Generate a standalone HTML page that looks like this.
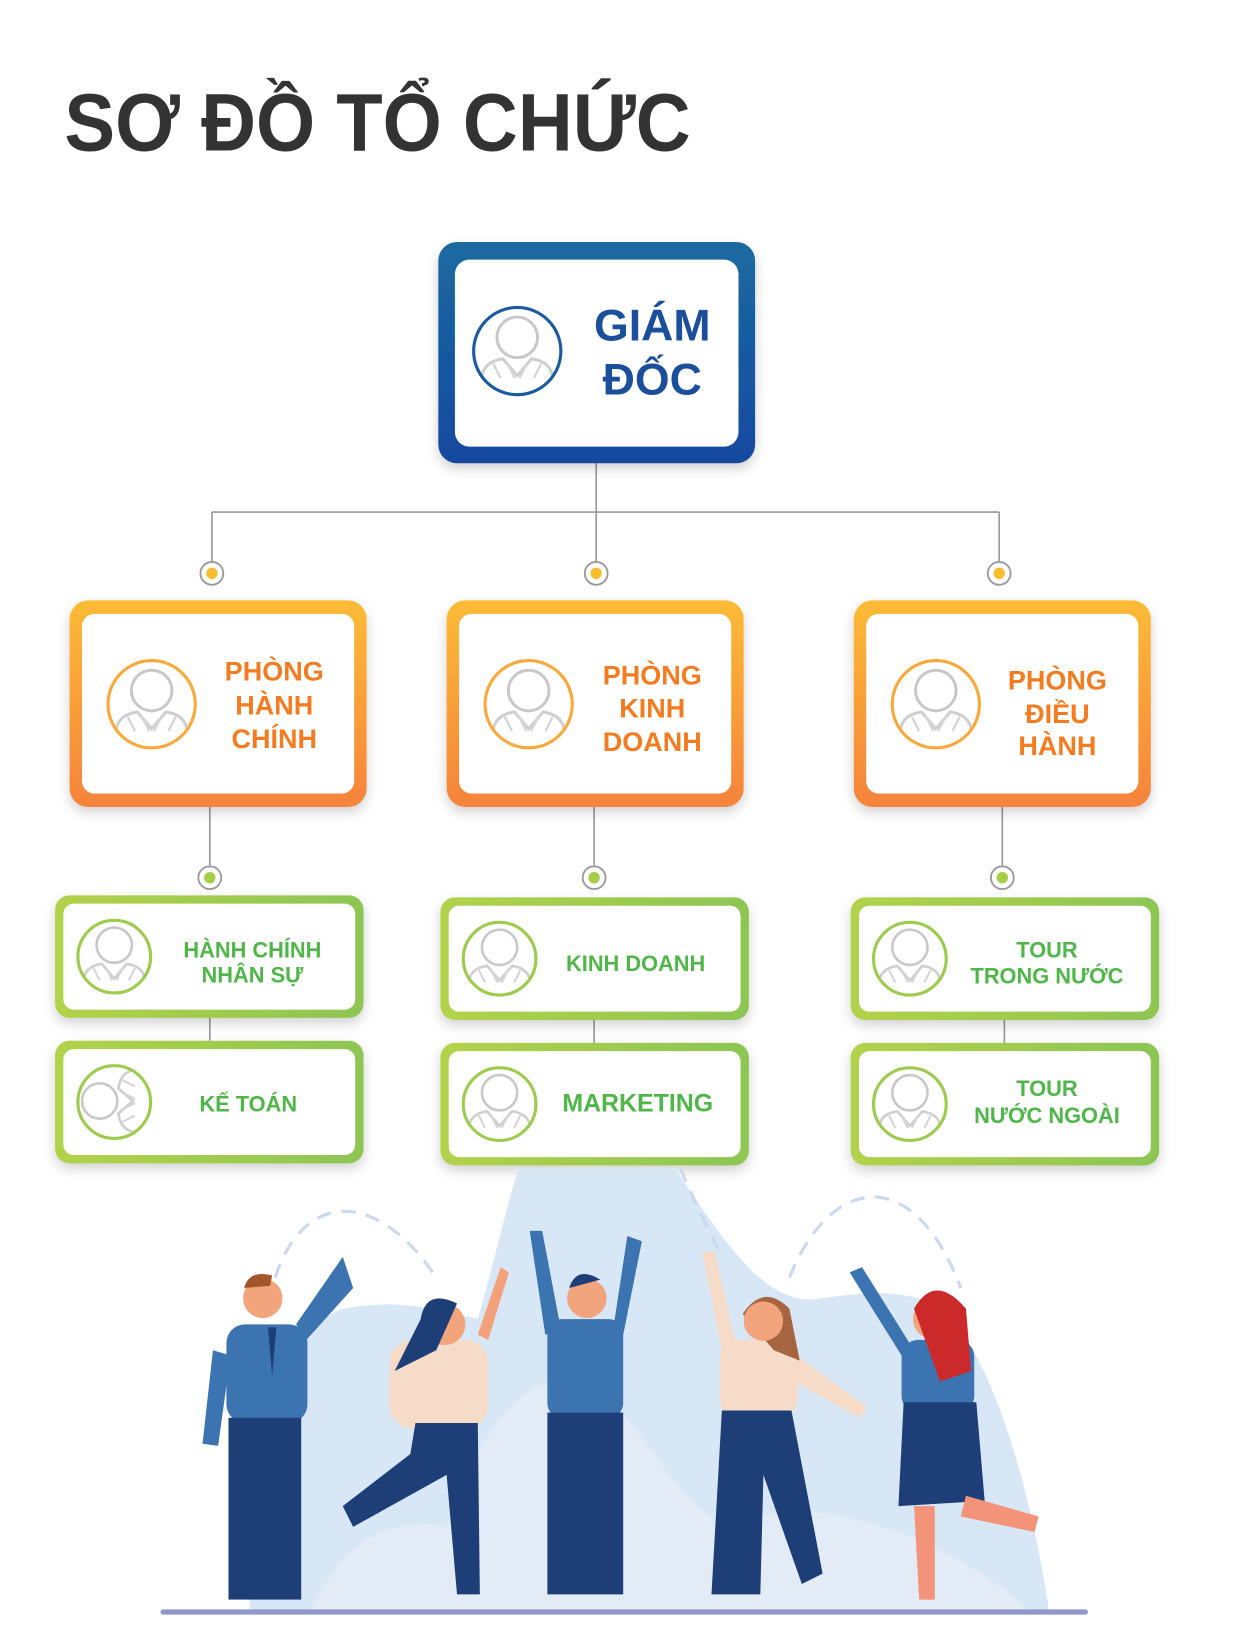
<!DOCTYPE html>
<html><head><meta charset="utf-8"><style>
html,body{margin:0;padding:0;background:#fff;width:1236px;height:1638px;overflow:hidden}
svg{display:block}
text{font-family:"Liberation Sans",sans-serif;font-weight:bold}
</style></head><body>
<svg width="1236" height="1638" viewBox="0 0 1190 1577" preserveAspectRatio="none" xmlns="http://www.w3.org/2000/svg">
<defs>
<linearGradient id="gb" x1="0" y1="0" x2="0" y2="1"><stop offset="0" stop-color="#1c6aa0"/><stop offset="1" stop-color="#1349a0"/></linearGradient>
<linearGradient id="go" x1="0" y1="0" x2="0" y2="1"><stop offset="0" stop-color="#fcbb36"/><stop offset="1" stop-color="#f5833c"/></linearGradient>
<linearGradient id="gg" x1="0" y1="0" x2="1" y2="0"><stop offset="0" stop-color="#b3d24b"/><stop offset="1" stop-color="#8dc553"/></linearGradient>
<filter id="sh" x="-10%" y="-10%" width="120%" height="130%"><feDropShadow dx="0" dy="5" stdDeviation="6" flood-color="#000" flood-opacity="0.18"/></filter>
<g id="av">
<circle cx="0" cy="-8" r="17" fill="none" stroke="#c8c8c8" stroke-width="2.5"/>
<path d="M-30,26 Q-28,12 -12,10 L0,24 L12,10 Q28,12 30,26" fill="none" stroke="#cfcfcf" stroke-width="2.5"/>
<path d="M-8,14 L-2,26 M8,14 L2,26 M-20,14 L-14,26 M20,14 L14,26" stroke="#d6d6d6" stroke-width="2"/>
</g>
</defs>

<text x="62" y="145" font-size="79" fill="#333" textLength="603" lengthAdjust="spacingAndGlyphs">SƠ ĐỒ TỔ CHỨC</text>

<!-- connectors -->
<g stroke="#9a9a9a" stroke-width="1.6" fill="none">
<path d="M574,446 V493 M204,493 H962 M204,493 V541 M574,493 V541 M962,493 V541"/>
<path d="M202,777 V833 M572,777 V833 M965,777 V833"/>
<path d="M202,980 V1002 M572,982 V1004 M967,982 V1004"/>
</g>
<g stroke="#9a9a9a" stroke-width="1.8" fill="#fff">
<circle cx="204" cy="552" r="11"/><circle cx="574" cy="552" r="11"/><circle cx="962" cy="552" r="11"/>
<circle cx="202" cy="845" r="11"/><circle cx="572" cy="845" r="11"/><circle cx="965" cy="845" r="11"/>
</g>
<g fill="#fbbd2e"><circle cx="204" cy="552" r="5.5"/><circle cx="574" cy="552" r="5.5"/><circle cx="962" cy="552" r="5.5"/></g>
<g fill="#a5cd45"><circle cx="202" cy="845" r="5.5"/><circle cx="572" cy="845" r="5.5"/><circle cx="965" cy="845" r="5.5"/></g>

<!-- director -->
<rect x="422" y="233" width="305" height="213" rx="18" fill="url(#gb)" filter="url(#sh)"/>
<rect x="438" y="250" width="273" height="180" rx="14" fill="#fff"/>
<clipPath id="c0"><circle cx="498" cy="338" r="42"/></clipPath>
<g clip-path="url(#c0)"><use href="#av" transform="translate(498,334) scale(1.15)"/></g>
<circle cx="498" cy="338" r="42" fill="none" stroke="#1a5aa0" stroke-width="3"/>
<text x="628" y="328" font-size="43" fill="#1b4f9c" text-anchor="middle">GIÁM</text>
<text x="628" y="380" font-size="43" fill="#1b4f9c" text-anchor="middle">ĐỐC</text>

<!-- orange boxes -->
<g>
<rect x="67" y="578" width="286" height="199" rx="18" fill="url(#go)" filter="url(#sh)"/>
<rect x="79" y="591" width="262" height="173" rx="12" fill="#fff"/>
<rect x="430" y="578" width="286" height="199" rx="18" fill="url(#go)" filter="url(#sh)"/>
<rect x="442" y="591" width="262" height="173" rx="12" fill="#fff"/>
<rect x="822" y="578" width="286" height="199" rx="18" fill="url(#go)" filter="url(#sh)"/>
<rect x="834" y="591" width="262" height="173" rx="12" fill="#fff"/>
</g>
<clipPath id="c1"><circle cx="146" cy="678" r="42"/></clipPath>
<clipPath id="c2"><circle cx="509" cy="678" r="42"/></clipPath>
<clipPath id="c3"><circle cx="901" cy="678" r="42"/></clipPath>
<g clip-path="url(#c1)"><use href="#av" transform="translate(146,674) scale(1.15)"/></g>
<g clip-path="url(#c2)"><use href="#av" transform="translate(509,674) scale(1.15)"/></g>
<g clip-path="url(#c3)"><use href="#av" transform="translate(901,674) scale(1.15)"/></g>
<g fill="none" stroke="url(#go)" stroke-width="3">
<circle cx="146" cy="678" r="42" stroke="#f9a93a"/><circle cx="509" cy="678" r="42" stroke="#f9a93a"/><circle cx="901" cy="678" r="42" stroke="#f9a93a"/>
</g>
<g font-size="26" fill="#f47b20" text-anchor="middle">
<text x="264" y="655">PHÒNG</text><text x="264" y="688">HÀNH</text><text x="264" y="720">CHÍNH</text>
<text x="628" y="659">PHÒNG</text><text x="628" y="691">KINH</text><text x="628" y="723">DOANH</text>
<text x="1018" y="664">PHÒNG</text><text x="1018" y="696">ĐIỀU</text><text x="1018" y="727">HÀNH</text>
</g>

<!-- green boxes -->
<g>
<rect x="53" y="862" width="297" height="118" rx="14" fill="url(#gg)" filter="url(#sh)"/><rect x="61" y="870" width="281" height="102" rx="10" fill="#fff"/>
<rect x="53" y="1002" width="297" height="118" rx="14" fill="url(#gg)" filter="url(#sh)"/><rect x="61" y="1010" width="281" height="102" rx="10" fill="#fff"/>
<rect x="424" y="864" width="297" height="118" rx="14" fill="url(#gg)" filter="url(#sh)"/><rect x="432" y="872" width="281" height="102" rx="10" fill="#fff"/>
<rect x="424" y="1004" width="297" height="118" rx="14" fill="url(#gg)" filter="url(#sh)"/><rect x="432" y="1012" width="281" height="102" rx="10" fill="#fff"/>
<rect x="819" y="864" width="297" height="118" rx="14" fill="url(#gg)" filter="url(#sh)"/><rect x="827" y="872" width="281" height="102" rx="10" fill="#fff"/>
<rect x="819" y="1004" width="297" height="118" rx="14" fill="url(#gg)" filter="url(#sh)"/><rect x="827" y="1012" width="281" height="102" rx="10" fill="#fff"/>
</g>
<clipPath id="d1"><circle cx="110" cy="921" r="35"/></clipPath>
<clipPath id="d2"><circle cx="110" cy="1061" r="35"/></clipPath>
<clipPath id="d3"><circle cx="481" cy="923" r="35"/></clipPath>
<clipPath id="d4"><circle cx="481" cy="1063" r="35"/></clipPath>
<clipPath id="d5"><circle cx="876" cy="923" r="35"/></clipPath>
<clipPath id="d6"><circle cx="876" cy="1063" r="35"/></clipPath>
<g clip-path="url(#d1)"><use href="#av" transform="translate(110,918)"/></g>
<g clip-path="url(#d2)"><use href="#av" transform="translate(104,1060) rotate(-90)"/></g>
<g clip-path="url(#d3)"><use href="#av" transform="translate(481,920)"/></g>
<g clip-path="url(#d4)"><use href="#av" transform="translate(481,1060)"/></g>
<g clip-path="url(#d5)"><use href="#av" transform="translate(876,920)"/></g>
<g clip-path="url(#d6)"><use href="#av" transform="translate(876,1060)"/></g>
<g fill="none" stroke="#9dcb4e" stroke-width="3">
<circle cx="110" cy="921" r="35"/><circle cx="110" cy="1061" r="35"/><circle cx="481" cy="923" r="35"/><circle cx="481" cy="1063" r="35"/><circle cx="876" cy="923" r="35"/><circle cx="876" cy="1063" r="35"/>
</g>
<g font-size="21" fill="#4fb748" text-anchor="middle">
<text x="243" y="922">HÀNH CHÍNH</text><text x="243" y="946">NHÂN SỰ</text>
<text x="239" y="1070">KẾ TOÁN</text>
<text x="612" y="935">KINH DOANH</text>
<text x="614" y="1070" font-size="24">MARKETING</text>
<text x="1008" y="922">TOUR</text><text x="1008" y="947">TRONG NƯỚC</text>
<text x="1008" y="1055">TOUR</text><text x="1008" y="1081">NƯỚC NGOÀI</text>
</g>

<!-- illustration background -->
<path d="M240,1550 C250,1400 270,1280 330,1260 C380,1250 420,1260 460,1270 C480,1200 490,1150 500,1125 L650,1125 C700,1200 740,1260 790,1250 C830,1245 860,1240 900,1255 C950,1290 990,1420 1010,1550 Z" fill="#d8e7f6"/>
<path d="M300,1550 C330,1480 380,1460 430,1470 C470,1350 520,1320 560,1330 C620,1360 640,1440 700,1470 C760,1440 820,1460 880,1480 C920,1500 960,1520 990,1550 Z" fill="#e3ebf7"/>
<g fill="none" stroke="#ccd8ee" stroke-width="3" stroke-dasharray="14 10">
<path d="M265,1230 C290,1150 360,1140 420,1230"/>
<path d="M760,1230 C800,1130 880,1120 925,1240"/>
<path d="M655,1125 C670,1160 685,1190 695,1210"/>
</g>

<!-- figures -->
<g>
<!-- 1 -->
<path d="M330,1210 L340,1240 L295,1290 L285,1275 Z" fill="#3b74b0"/>
<rect x="218" y="1275" width="78" height="95" rx="18" fill="#3b74b0"/>
<path d="M205,1300 L195,1390 L210,1392 L222,1305 Z" fill="#3b74b0"/>
<rect x="220" y="1365" width="70" height="175" fill="#1d3e77"/>
<circle cx="253" cy="1250" r="19" fill="#f2a47c"/>
<path d="M235,1240 Q240,1222 262,1228 L260,1238 Z" fill="#a4552c"/>
<path d="M258,1278 L262,1325 L266,1278 Z" fill="#1d3e77"/>
<!-- 2 -->
<path d="M482,1220 L490,1225 L470,1290 L460,1285 Z" fill="#f4a07b"/>
<rect x="375" y="1290" width="95" height="85" rx="22" fill="#f6dcc8"/>
<path d="M400,1370 L460,1370 L462,1535 L440,1535 L430,1420 L340,1470 L330,1450 L395,1400 Z" fill="#1d3e77"/>
<circle cx="428" cy="1275" r="20" fill="#f2a47c"/>
<path d="M405,1270 Q410,1240 440,1255 L420,1300 L380,1320 Z" fill="#1d3e77"/>
<!-- 3 -->
<path d="M510,1185 L522,1185 L540,1280 L525,1285 Z" fill="#3b74b0"/>
<path d="M604,1190 L618,1195 L600,1285 L590,1282 Z" fill="#3b74b0"/>
<rect x="527" y="1270" width="73" height="95" rx="14" fill="#3b74b0"/>
<rect x="527" y="1360" width="73" height="175" fill="#1d3e77"/>
<circle cx="565" cy="1250" r="19" fill="#f2a47c"/>
<path d="M548,1240 Q555,1218 578,1232 Z" fill="#1d3e77"/>
<!-- 4 -->
<path d="M676,1205 L688,1205 L710,1300 L696,1305 Z" fill="#f6dcc8"/>
<rect x="693" y="1290" width="75" height="75" rx="18" fill="#f6dcc8"/>
<path d="M760,1300 L835,1355 L828,1365 L755,1325 Z" fill="#f6dcc8"/>
<path d="M695,1358 L762,1358 L792,1515 L772,1525 L735,1420 L732,1535 L685,1535 Z" fill="#1d3e77"/>
<path d="M715,1265 Q735,1235 760,1260 L770,1310 L745,1300 Z" fill="#a66540"/>
<circle cx="735" cy="1272" r="19" fill="#f2a47c"/>
<!-- 5 -->
<path d="M818,1225 L830,1220 L880,1300 L868,1305 Z" fill="#3b74b0"/>
<rect x="868" y="1290" width="70" height="70" rx="16" fill="#3b74b0"/>
<path d="M870,1350 L940,1350 L948,1445 L865,1450 Z" fill="#1d3e77"/>
<path d="M880,1450 L900,1450 L900,1540 L885,1540 Z M930,1440 L1000,1460 L996,1475 L925,1460 Z" fill="#f2937a"/>
<circle cx="898" cy="1270" r="19" fill="#f2a47c"/>
<path d="M880,1260 Q900,1225 930,1260 L935,1320 L905,1330 Z" fill="#cc2a2a"/>
</g>
<line x1="157" y1="1552" x2="1045" y2="1552" stroke="#8f98c9" stroke-width="5" stroke-linecap="round"/>
</svg>
</body></html>
